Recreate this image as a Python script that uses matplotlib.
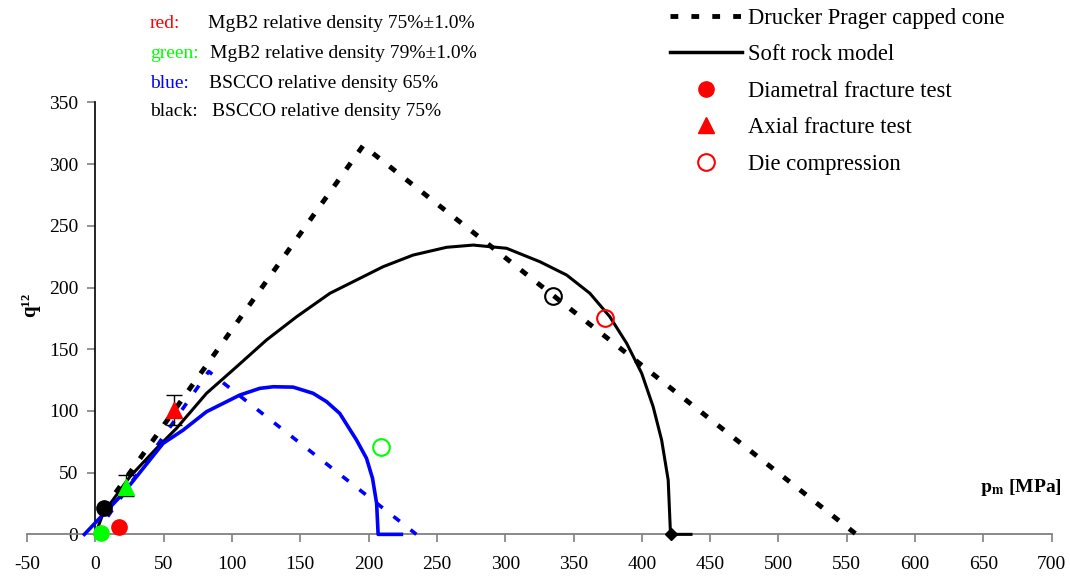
import matplotlib
matplotlib.use('Agg')
import matplotlib.pyplot as plt
from matplotlib.lines import Line2D

plt.rcParams['font.family'] = 'serif'
plt.rcParams['font.serif'] = ['Liberation Serif', 'DejaVu Serif']
plt.rcParams['mathtext.fontset'] = 'stix'
plt.rcParams['axes.unicode_minus'] = False

# Drucker Prager capped cones
dp_black_x = [6, 196, 557]
dp_black_y = [20, 315, 0]
dp_blue_x = [0, 83, 235]
dp_blue_y = [0, 132, 0]

# Soft rock model curves
soft_black_x = [0, 5.7, 25.3, 44.8, 59.4, 81.4, 103.4, 125.3, 147.3, 171.7, 191.2,
                210.7, 232.6, 257.1, 276.6, 301, 325.4, 345, 362, 376.6, 388.9,
                399.9, 408.3, 414.5, 419.3, 421, 436]
soft_black_y = [0, 17, 46.7, 69.7, 85.9, 114.3, 135.8, 157.5, 176.3, 195.3, 206.1,
                216.9, 226.3, 232.6, 234.4, 231.8, 220.9, 210.1, 195.3, 176.3, 154.8,
                130.5, 103.4, 76.4, 44, 0, 0]
soft_blue_x = [-8, 20.4, 49.6, 64.3, 81.4, 105.8, 120.4, 130.2, 144.8, 159.4, 169.3,
               178.9, 191.2, 198.5, 202.9, 205.9, 207, 224]
soft_blue_y = [0, 33.2, 73.7, 84.5, 99.4, 112.9, 118.3, 119.6, 119.3, 114.3, 107.5,
               98, 76.4, 61.6, 45.4, 25.1, 0, 0]

# test points
diam_x = [6.2, 3.8, 17.4]
diam_y = [21.6, 1.3, 5.7]
diam_c = ['black', '#00ff00', '#ff0000']
axial_x = [22.8, 57.5]
axial_y = [38.6, 100.7]
axial_lo = [7.4, 12.1]
axial_hi = [9.4, 12.2]
axial_c = ['#00ff00', '#ff0000']
die_x = [208.8, 334.7, 373]
die_y = [71, 193.1, 175]
die_c = ['#00ff00', 'black', '#ff0000']
end_x = [421]
end_y = [0]

xticks = list(range(-50, 701, 50))
yticks = list(range(0, 351, 50))

fig = plt.figure(figsize=(10.7, 5.81), dpi=100)
W, H = 1070, 581
ax = fig.add_axes([27 / W, (H - 546.7) / H, (1051.7 - 27) / W, (546.7 - 102.4) / H])
ax.set_xlim(-50, 700)
ax.set_ylim(-10, 350)

ax.plot(dp_black_x, dp_black_y, color='black', lw=3.5, linestyle=(0, (1.6, 2.7)),
        dash_capstyle='butt', zorder=3)
ax.plot(dp_blue_x, dp_blue_y, color='#0000ff', lw=2.6, linestyle=(0, (2.2, 3.8)),
        dash_capstyle='butt', zorder=3)
ax.plot(soft_black_x, soft_black_y, color='black', lw=2.2, zorder=3)
ax.plot(soft_blue_x, soft_blue_y, color='#0000ff', lw=2.6, zorder=3)
ax.plot(end_x, end_y, 'D', color='black', ms=6, clip_on=False, zorder=4)

for x, y, c in zip(diam_x, diam_y, diam_c):
    ax.plot(x, y, 'o', color=c, ms=11, clip_on=False, zorder=5)
for x, y, lo, hi, c in zip(axial_x, axial_y, axial_lo, axial_hi, axial_c):
    ax.errorbar(x, y, yerr=[[lo], [hi]], fmt='none', ecolor='black', elinewidth=1,
                capsize=5.5, capthick=1, zorder=4)
    ax.plot(x, y, '^', color=c, ms=11, zorder=5)
for x, y, c in zip(die_x, die_y, die_c):
    ax.plot(x, y, 'o', mfc='none', mec=c, mew=1.5, ms=12, zorder=5)

for s in ['top', 'right']:
    ax.spines[s].set_visible(False)
ax.spines['bottom'].set_position(('data', 0))
ax.spines['bottom'].set_color('#808080')
ax.spines['bottom'].set_linewidth(1.3)
ax.spines['left'].set_position(('data', 0))
ax.spines['left'].set_bounds(0, 350)
ax.spines['left'].set_linewidth(1.2)
ax.set_xticks(xticks)
ax.set_yticks(yticks)
ax.tick_params(axis='x', direction='out', length=5.5, width=1.2, color='#808080',
               labelsize=14, pad=10)
ax.tick_params(axis='y', direction='out', length=5.8, width=1.2, color='#808080',
               labelsize=14, pad=6.5)

fig.text(30 / W, 1 - 305 / H, 'q¹²', rotation=90, fontsize=15, fontweight='bold',
         ha='center', va='center')
fig.text(1062 / W, 1 - 487 / H, r'$\mathbf{p_m}$ [MPa]', fontsize=14,
         fontweight='bold', ha='right', va='center')

# colour key
key_colors = ['#ff0000', '#00ff00', '#0000ff', 'black']
key_names = ['red:', 'green:', 'blue:', 'black:']
key_texts = ['MgB2 relative density 75%±1.0%', 'MgB2 relative density 79%±1.0%',
             'BSCCO relative density 65%', 'BSCCO relative density 75%']
key_y = [23.5, 53.5, 83.5, 112]
key_tx = [208.3, 210, 209, 212.3]
for c, n, t, y, tx in zip(key_colors, key_names, key_texts, key_y, key_tx):
    fig.text(150 / W, 1 - y / H, n, color=c, fontsize=14, va='center')
    fig.text(tx / W, 1 - y / H, t, color='black', fontsize=14, va='center')

handles = [
    Line2D([], [], color='black', lw=3.5, linestyle=(0, (1.6, 2.7))),
    Line2D([], [], color='black', lw=2.5),
    Line2D([], [], color='#ff0000', marker='o', ms=11, linestyle='none'),
    Line2D([], [], color='#ff0000', marker='^', ms=11, linestyle='none'),
    Line2D([], [], color='#ff0000', marker='o', ms=12, mfc='none', mew=1.5,
           linestyle='none'),
]
labels = ['Drucker Prager capped cone', 'Soft rock model', 'Diametral fracture test',
          'Axial fracture test', 'Die compression']
fig.legend(handles, labels, loc='upper left', bbox_to_anchor=(670 / W, 1 - 8 / H),
           frameon=False, fontsize=16.3, handlelength=3.18, handletextpad=0.27,
           labelspacing=0.68, borderpad=0, borderaxespad=0)

fig.savefig('out.png', dpi=100)
